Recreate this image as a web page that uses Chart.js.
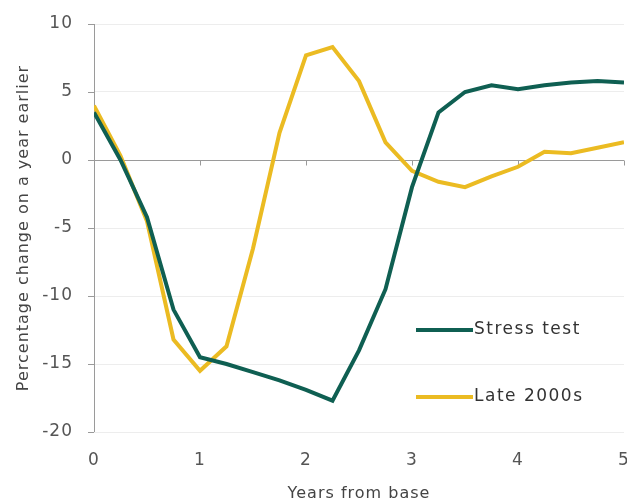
<!DOCTYPE html>
<html>
<head>
<meta charset="utf-8">
<script src="https://cdn.jsdelivr.net/npm/chart.js@4.4.0/dist/chart.umd.min.js"></script>
<style>
  html, body { margin: 0; padding: 0; background: #fff; }
  #wrap { width: 627px; height: 503px; overflow: hidden; }
</style>
</head>
<body>
<div id="wrap"><canvas id="chart" width="627" height="503"></canvas></div>
<script>
// quarterly points, years from base
const years = [0, 0.25, 0.5, 0.75, 1, 1.25, 1.5, 1.75, 2, 2.25, 2.5, 2.75, 3, 3.25, 3.5, 3.75, 4, 4.25, 4.5, 4.75, 5];
const stressTest = [3.5, 0, -4.2, -11, -14.5, -15, -15.6, -16.2, -16.9, -17.7, -14, -9.5, -2, 3.5, 5.0, 5.5, 5.2, 5.5, 5.7, 5.8, 5.7];
const late2000s = [4, 0.3, -4.5, -13.2, -15.5, -13.7, -6.5, 2, 7.7, 8.3, 5.8, 1.3, -0.8, -1.6, -2, -1.2, -0.5, 0.6, 0.5, 0.9, 1.3];
const seriesNames = ['Stress test', 'Late 2000s'];
const yTicks = [10, 5, 0, -5, -10, -15, -20];
const xTicks = [0, 1, 2, 3, 4, 5];

const GREEN = '#0f5f52';
const YELLOW = '#ebbb22';
const FONT = '"DejaVu Sans", sans-serif';

const toPoints = vals => vals.map((v, i) => ({ x: years[i], y: v }));

// the original uses a wide font, so space the letters out a bit
const wideText = {
  id: 'wideText',
  beforeDraw(chart) { chart.ctx.letterSpacing = '1px'; }
};

// legend drawn inside the plot, bottom right
const insideLegend = {
  id: 'insideLegend',
  afterDatasetsDraw(chart) {
    const ctx = chart.ctx;
    const rows = [330, 397];
    ctx.save();
    chart.data.datasets.forEach((ds, i) => {
      ctx.strokeStyle = ds.borderColor;
      ctx.lineWidth = 4;
      ctx.beginPath();
      ctx.moveTo(416, rows[i]);
      ctx.lineTo(473, rows[i]);
      ctx.stroke();
      ctx.fillStyle = '#333';
      ctx.font = '17px ' + FONT;
      ctx.letterSpacing = '1.5px';
      ctx.textBaseline = 'middle';
      ctx.fillText(ds.label, 474, rows[i]);
    });
    ctx.restore();
  }
};

// small tick marks on the zero line and left of the y axis
const axisTicks = {
  id: 'axisTicks',
  beforeDatasetsDraw(chart) {
    const ctx = chart.ctx;
    const xs = chart.scales.x, ys = chart.scales.y;
    const y0 = Math.round(ys.getPixelForValue(0)) + 0.5;
    ctx.save();
    ctx.strokeStyle = '#9a9a9a';
    ctx.lineWidth = 1;
    ctx.beginPath();
    ctx.moveTo(xs.left, y0);
    ctx.lineTo(xs.right, y0);
    xTicks.slice(1).forEach(t => {
      const px = Math.round(xs.getPixelForValue(t)) + 0.5;
      ctx.moveTo(px, y0);
      ctx.lineTo(px, y0 + 5);
    });
    ctx.moveTo(xs.left + 0.5, ys.top);
    ctx.lineTo(xs.left + 0.5, ys.bottom);
    yTicks.forEach(t => {
      const py = Math.round(ys.getPixelForValue(t)) + 0.5;
      ctx.moveTo(xs.left - 6, py);
      ctx.lineTo(xs.left, py);
    });
    ctx.stroke();
    ctx.restore();
  }
};

new Chart(document.getElementById('chart'), {
  type: 'line',
  data: {
    datasets: [
      { label: seriesNames[0], data: toPoints(stressTest), borderColor: GREEN, borderWidth: 4, pointRadius: 0, tension: 0 },
      { label: seriesNames[1], data: toPoints(late2000s), borderColor: YELLOW, borderWidth: 4, pointRadius: 0, tension: 0 }
    ]
  },
  options: {
    responsive: false,
    animation: false,
    layout: { padding: { top: 24, right: 3, bottom: 0, left: 0 } },
    plugins: {
      legend: { display: false },
      tooltip: { enabled: false }
    },
    scales: {
      x: {
        type: 'linear',
        min: 0,
        max: 5,
        afterBuildTicks: axis => { axis.ticks = xTicks.map(v => ({ value: v })); },
        afterFit: axis => { axis.paddingLeft = 0; axis.paddingRight = 0; axis.height = 71; },
        grid: { display: false, drawTicks: false },
        border: { display: false },
        ticks: { color: '#555', font: { family: FONT, size: 17 }, padding: 18, maxRotation: 0 },
        title: { display: true, text: 'Years from base', color: '#444', font: { family: FONT, size: 16 }, padding: { top: 0, bottom: 0 } }
      },
      y: {
        min: -20,
        max: 10,
        afterBuildTicks: axis => { axis.ticks = yTicks.map(v => ({ value: v })); },
        afterFit: axis => { axis.width = 94; axis.paddingTop = 0; axis.paddingBottom = 0; },
        grid: { color: '#ededed', drawTicks: false },
        border: { display: false },
        ticks: { color: '#555', font: { family: FONT, size: 17 }, padding: 21 },
        title: { display: true, text: 'Percentage change on a year earlier', color: '#444', font: { family: FONT, size: 16 }, padding: { top: 14, bottom: 0 } }
      }
    }
  },
  plugins: [wideText, axisTicks, insideLegend]
});
</script>
</body>
</html>
